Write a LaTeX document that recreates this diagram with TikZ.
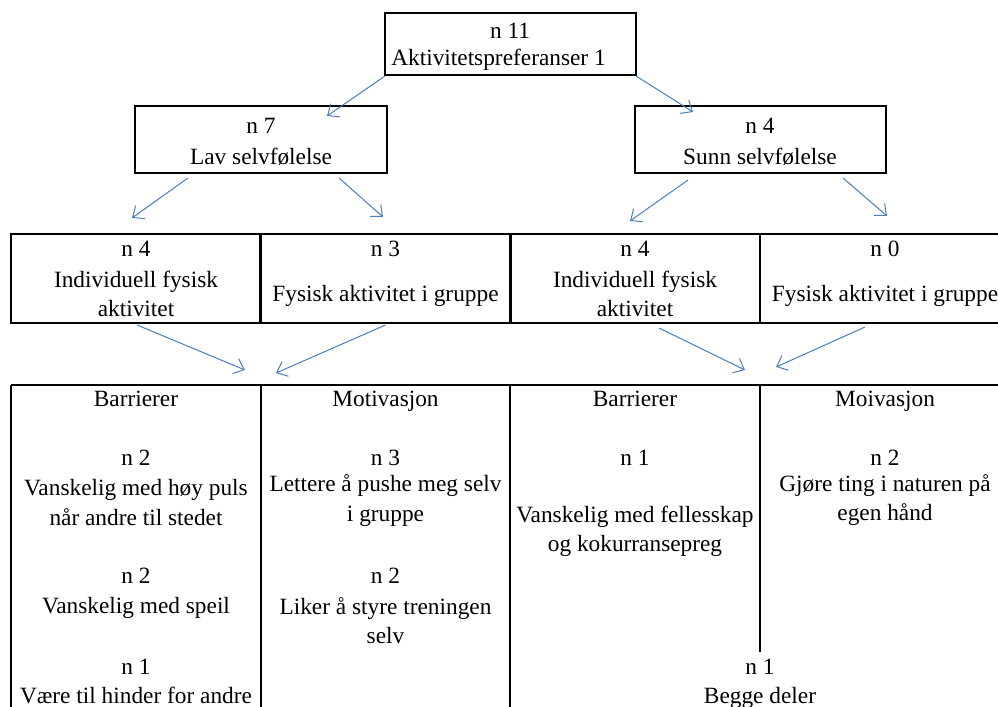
\documentclass[tikz,border=0pt]{standalone}
\usepackage{fontspec}
\setmainfont{Liberation Serif}
\usetikzlibrary{arrows.meta,calc}
\definecolor{linkblue}{RGB}{74,126,187}
\begin{document}
\begin{tikzpicture}[x=0.75pt,y=-0.75pt,
    font=\fontsize{17.5}{20}\selectfont,
    box/.style={draw, line width=1.6pt, inner sep=0, outer sep=0},
    txt/.style={anchor=base, inner sep=0},
    link/.style={linkblue, line width=0.75pt, -{Straight Barb[length=7pt,width=12pt]}}]
  \useasboundingbox (0,0) rectangle (998,706);
  \clip (0,0) rectangle (998,706);
  % Top box
  \node[box, minimum width=188.25pt, minimum height=46.5pt] (top) at (510.5,44) {};
  \node[txt] (top-n) at (510,39) {n 11};
  \node[txt, anchor=base west] (top-t) at (391,66) {Aktivitetspreferanser 1};
  % Second level
  \node[box, minimum width=189pt, minimum height=50.25pt] (lav) at (261,139.5) {};
  \node[txt] (lav-n) at (261,133) {n 7};
  \node[txt] (lav-t) at (261,164) {Lav selvfølelse};
  \node[box, minimum width=188.25pt, minimum height=50.25pt] (sunn) at (760.5,139.5) {};
  \node[txt] (sunn-n) at (760,133) {n 4};
  \node[txt] (sunn-t) at (760,164) {Sunn selvfølelse};
  \coordinate (lav-in) at (327,116);
  \coordinate (sunn-in) at (693,112);
  \draw[link] ($(top.south west)+(0,1)$) -- (lav-in);
  \draw[link] ($(top.south east)+(0,1)$) -- (sunn-in);
  % Third level (table row)
  \foreach \c/\x in {c1/136, c2/385.5, c3/635, c4/885}
    \node[box, minimum width=187.5pt, minimum height=66.75pt] (\c) at (\x,278.5) {};
  \node[txt] (c1-n) at (136,256) {n 4};
  \node[txt] (c1-a) at (136,287) {Individuell fysisk};
  \node[txt] (c1-b) at (136,316) {aktivitet};
  \node[txt] (c2-n) at (385.5,256) {n 3};
  \node[txt] (c2-a) at (385.5,301) {Fysisk aktivitet i gruppe};
  \node[txt] (c3-n) at (635,256) {n 4};
  \node[txt] (c3-a) at (635,287) {Individuell fysisk};
  \node[txt] (c3-b) at (635,316) {aktivitet};
  \node[txt] (c4-n) at (885,256) {n 0};
  \node[txt] (c4-a) at (885,301) {Fysisk aktivitet i gruppe};
  \coordinate (c1-out) at (132,218);
  \coordinate (c2-out) at (383,217);
  \coordinate (c3-out) at (630,221);
  \coordinate (c4-out) at (887,216);
  \draw[link] ($(lav.south)+(-73,5)$) -- (c1-out);
  \draw[link] ($(lav.south)+(78,5)$) -- (c2-out);
  \draw[link] ($(sunn.south)+(-72.5,7)$) -- (c3-out);
  \draw[link] ($(sunn.south)+(82.5,5)$) -- (c4-out);
  % Bottom table
  \draw[line width=1.6pt] (11,385) -- (1010,385);
  \foreach \x in {11,261,510}
    \draw[line width=1.6pt] (\x,385) -- (\x,720);
  \draw[line width=1.6pt] (760,385) -- (760,652);
  \coordinate (left-in) at (245,370);
  \coordinate (left-in2) at (276,373);
  \coordinate (right-in) at (745,370);
  \coordinate (right-in2) at (776,367);
  \draw[link] ($(c1.south)+(1,2)$) -- (left-in);
  \draw[link] ($(c2.south)+(0,2)$) -- (left-in2);
  \draw[link] ($(c3.south)+(24,5)$) -- (right-in);
  \draw[link] ($(c4.south)+(-20,4)$) -- (right-in2);
  % Column 1
  \node[txt] (b1-h) at (136,406) {Barrierer};
  \node[txt] (b1-n1) at (136,465) {n 2};
  \node[txt] (b1-t1) at (136,495) {Vanskelig med høy puls};
  \node[txt] (b1-t1b) at (136,525) {når andre til stedet};
  \node[txt] (b1-n2) at (136,583) {n 2};
  \node[txt] (b1-t2) at (136,613) {Vanskelig med speil};
  \node[txt] (b1-n3) at (136,674) {n 1};
  \node[txt] (b1-t3) at (136,703) {Være til hinder for andre};
  % Column 2
  \node[txt] (m1-h) at (385.5,406) {Motivasjon};
  \node[txt] (m1-n1) at (385.5,465) {n 3};
  \node[txt] (m1-t1) at (385.5,491) {Lettere å pushe meg selv};
  \node[txt] (m1-t1b) at (385.5,521) {i gruppe};
  \node[txt] (m1-n2) at (385.5,583) {n 2};
  \node[txt] (m1-t2) at (385.5,614) {Liker å styre treningen};
  \node[txt] (m1-t2b) at (385.5,643) {selv};
  % Column 3
  \node[txt] (b2-h) at (635,406) {Barrierer};
  \node[txt] (b2-n1) at (635,465) {n 1};
  \node[txt] (b2-t1) at (635,522) {Vanskelig med fellesskap};
  \node[txt] (b2-t1b) at (635,551) {og kokurransepreg};
  % Column 4
  \node[txt] (m2-h) at (885,406) {Moivasjon};
  \node[txt] (m2-n1) at (885,465) {n 2};
  \node[txt] (m2-t1) at (885,491) {Gjøre ting i naturen på};
  \node[txt] (m2-t1b) at (885,520) {egen hånd};
  % Shared cell
  \node[txt] (both-n) at (760,674) {n 1};
  \node[txt] (both-t) at (760,703) {Begge deler};
\end{tikzpicture}
\end{document}
